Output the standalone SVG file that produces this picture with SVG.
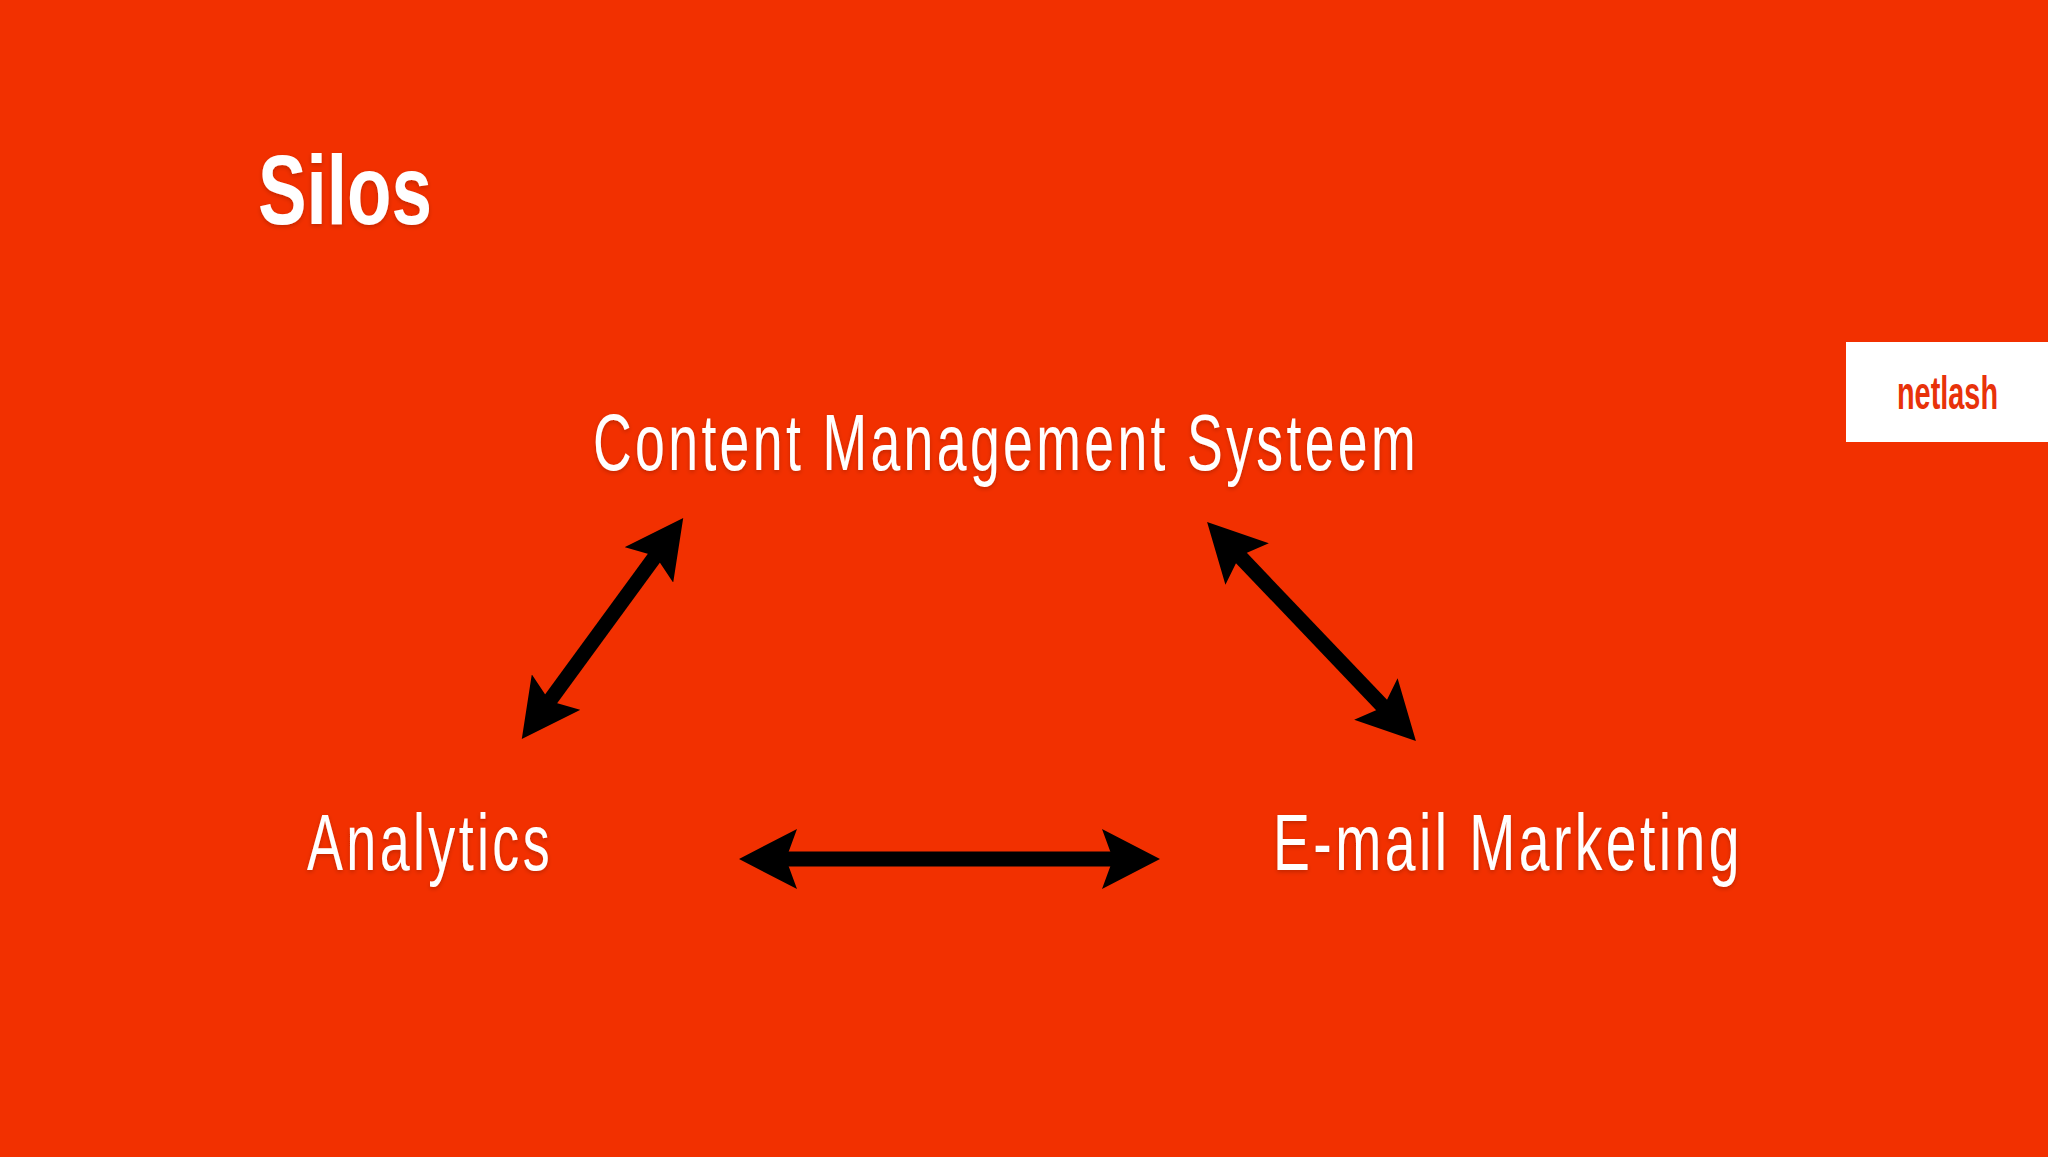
<svg xmlns="http://www.w3.org/2000/svg" width="2048" height="1157" viewBox="0 0 2048 1157">
<style>
.bg{fill:#f23000}
.lbl{font-family:"Liberation Sans Narrow","Liberation Sans",sans-serif;font-size:80px;fill:#fff;letter-spacing:5px;filter:url(#sh)}
.ttl{font-family:"Liberation Sans Narrow","Liberation Sans",sans-serif;font-size:98px;font-weight:700;fill:#fff;filter:url(#sh)}
.logo{font-family:"Liberation Sans Narrow","Liberation Sans",sans-serif;font-size:46px;font-weight:700;fill:#e8320a}
.arr{stroke:#000;stroke-width:15;fill:none;marker-start:url(#head);marker-end:url(#head)}
</style>
<defs>
<filter id="sh" x="-5%" y="-20%" width="110%" height="140%"><feDropShadow dx="0" dy="2" stdDeviation="2" flood-color="#000" flood-opacity="0.2"/></filter>
<marker id="head" markerUnits="userSpaceOnUse" viewBox="0 -30 58 60" markerWidth="58" markerHeight="60" refX="18" refY="0" orient="auto-start-reverse"><path d="M0,-30L58,0L0,30L11,0Z" fill="#000"/></marker>
</defs>
<rect class="bg" width="2048" height="1157"/>
<g id="title"><text class="ttl" x="258" y="224" textLength="174" lengthAdjust="spacingAndGlyphs">Silos</text></g>
<g id="logo"><rect x="1846" y="342" width="202" height="100" fill="#fff"/><text class="logo" x="1897" y="409" textLength="101" lengthAdjust="spacingAndGlyphs">netlash</text></g>
<g id="node-cms"><text class="lbl" x="593" y="470" textLength="826" lengthAdjust="spacingAndGlyphs">Content Management Systeem</text></g>
<g id="node-analytics"><text class="lbl" x="307" y="870" textLength="246" lengthAdjust="spacingAndGlyphs">Analytics</text></g>
<g id="node-email"><text class="lbl" x="1273" y="870" textLength="470" lengthAdjust="spacingAndGlyphs">E-mail Marketing</text></g>
<g id="connectors">
<line class="arr" x1="659.600" y1="550.400" x2="545.400" y2="706.600"/>
<line class="arr" x1="1234.700" y1="551" x2="1388.300" y2="712"/>
<line class="arr" x1="779" y1="859" x2="1120" y2="859"/>
</g>
</svg>
